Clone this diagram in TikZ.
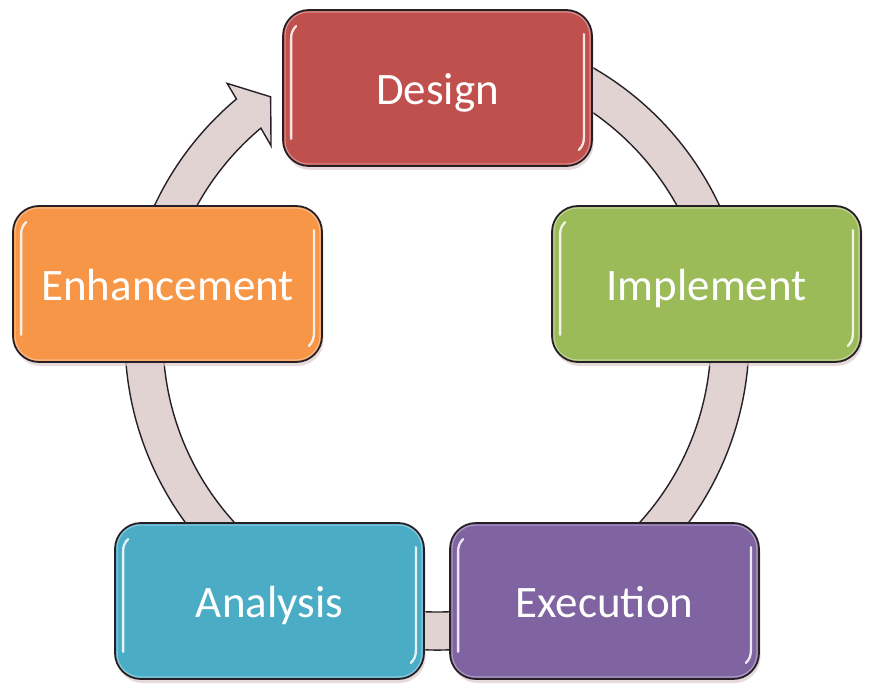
\documentclass[tikz,border=0pt]{standalone}
\usepackage{fontspec}
\setmainfont{Carlito}
\usetikzlibrary{calc}
\definecolor{ringfill}{HTML}{E0D3D1}
\definecolor{outline}{HTML}{262026}
\definecolor{shadowc}{HTML}{DCCACA}
\definecolor{designc}{HTML}{C0504D}
\definecolor{implementc}{HTML}{9BBB59}
\definecolor{executionc}{HTML}{8064A2}
\definecolor{analysisc}{HTML}{4BACC6}
\definecolor{enhancec}{HTML}{F79646}
\begin{document}
\begin{tikzpicture}[x=1pt,y=1pt,
  stage/.style={draw=outline, line width=1.8pt, rounded corners=26pt,
    minimum width=309pt, minimum height=156pt, inner sep=0pt,
    text=white, font=\fontsize{45}{54}\selectfont,
    text height=33pt, text depth=0pt,
    preaction={fill=shadowc, opacity=0.7, draw=none,
      transform canvas={shift={(1.5pt,-4pt)}}}},
  rim/.style={draw=white, opacity=0.35, line width=1.2pt, rounded corners=23pt},
  gloss/.style={draw=white, opacity=0.85, line width=2.3pt, line cap=round}]
\useasboundingbox (0,0) rectangle (872,697);
\coordinate (c) at (437,359);

% circular arrow running clockwise behind the stages
\filldraw[fill=ringfill, draw=outline, line width=1.4pt]
  ($(c)+(117:312pt)$) arc[start angle=117, end angle=-230, radius=312pt]
  -- ($(c)+(129.5:330pt)$) -- ($(c)+(124.6:293pt)$)
  -- ($(c)+(130.8:254pt)$) -- ($(c)+(130:274pt)$)
  arc[start angle=-230, end angle=117, radius=274pt] -- cycle;

% stages
\node[stage, fill=designc]    (design)    at (437.5,609) {Design};
\node[stage, fill=implementc] (implement) at (706.5,413) {Implement};
\node[stage, fill=executionc] (execution) at (604.5,96)  {Execution};
\node[stage, fill=analysisc]  (analysis)  at (269.5,96)  {Analysis};
\node[stage, fill=enhancec]   (enhance)   at (167.5,413) {Enhancement};

% glossy rims and highlights
\foreach \n in {design,implement,execution,analysis,enhance}{
  \draw[rim] ($(\n.south west)+(3,3)$) rectangle ($(\n.north east)-(3,3)$);
  \draw[gloss] ($(\n.south west)+(9,28)$) -- ($(\n.north west)+(9,-30)$)
    to[out=90,in=-135] ($(\n.north west)+(14,-17)$);
  \draw[gloss] ($(\n.north east)+(-9,-25)$) -- ($(\n.south east)+(-9,30)$)
    to[out=-90,in=45] ($(\n.south east)+(-14,17)$);
}
\end{tikzpicture}
\end{document}
